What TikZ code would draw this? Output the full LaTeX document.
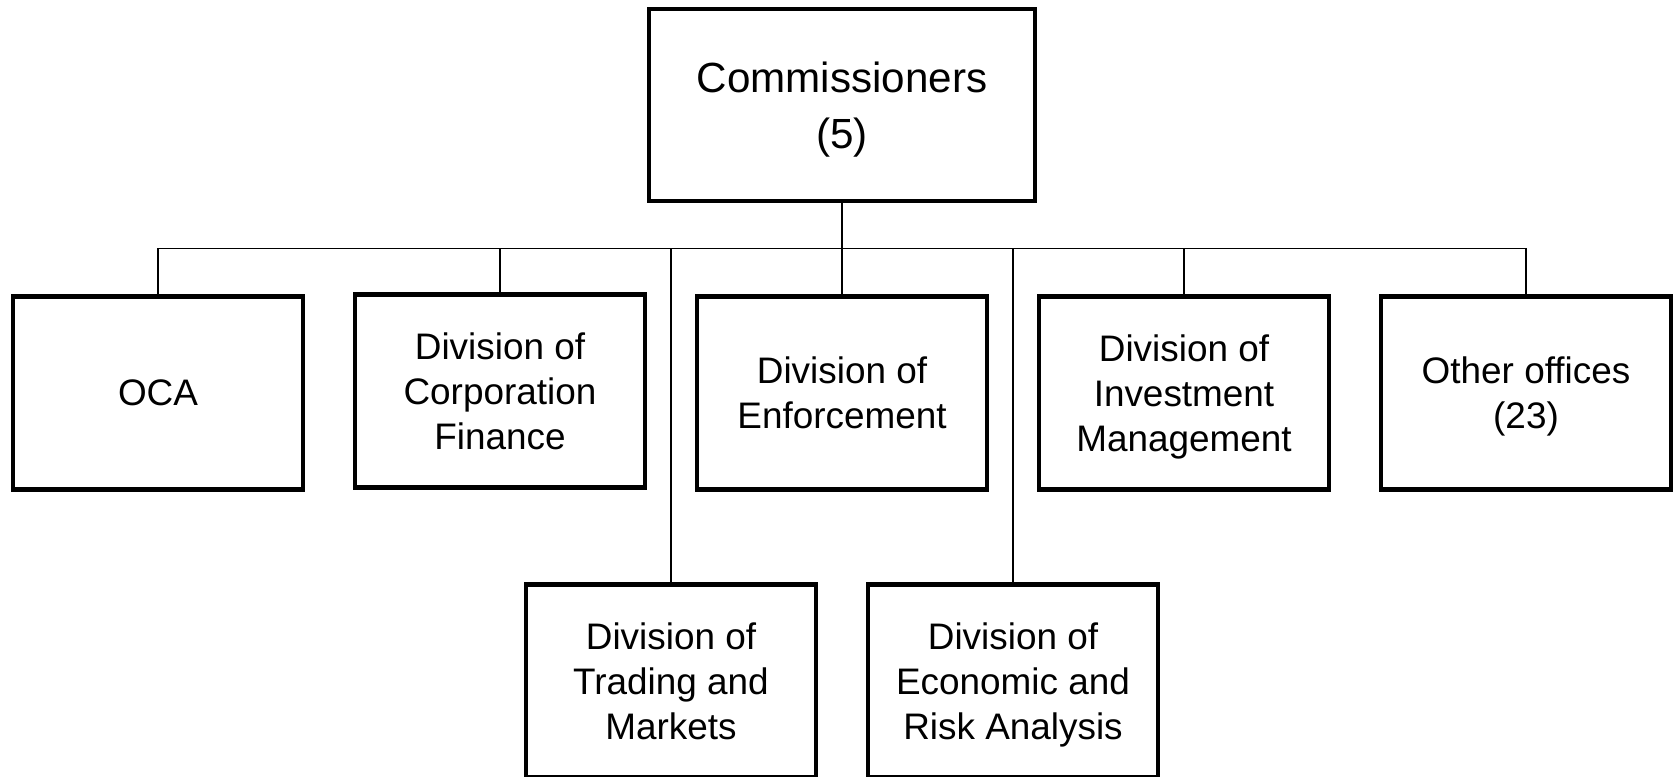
\documentclass[tikz,border=0pt]{standalone}
\usepackage{fontspec}
\setmainfont{Liberation Sans}
\usetikzlibrary{math}
\tikzset{
  unit/.style={draw=black, line width=2.7pt, minimum width=5.8cm, minimum height=3.86cm,
    align=center, inner sep=0pt, text depth=0pt, font=\fontsize{21}{25.5}\selectfont},
  link/.style={line width=0.9pt}
}

\begin{document}
\begin{tikzpicture}
\tikzmath{
\S=3.42;
\R=-7.86;
\B=-13.62;
}
\useasboundingbox (-16.84,0) rectangle (16.62,-15.54);

\node[unit, minimum width=7.72cm, minimum height=3.84cm, font=\fontsize{24}{31.6}\selectfont] (comm) at (0,-2.1) {Commissioners\\(5)};

\node[unit] (oca) at (-4*\S,\R) {OCA};
\node[unit] (corp) at (-2*\S,\R+0.04) {Division of\\Corporation\\Finance};
\node[unit] (enf) at (0,\R) {Division of\\Enforcement};
\node[unit] (inv) at (2*\S,\R) {Division of\\Investment\\Management};
\node[unit] (other) at (4*\S,\R) {Other offices\\(23)};
\node[unit] (trade) at (-\S,\B) {Division of\\Trading and\\Markets};
\node[unit] (econ) at (\S,\B) {Division of\\Economic and\\Risk Analysis};

% tree lines
\coordinate (bus) at (0,-4.97);
\draw[link] (comm) -- (comm |- bus);
\draw[link] (oca |- bus) -- (other |- bus);
\foreach \n in {oca,corp,trade,enf,econ,inv,other}
  \draw[link] (\n) -- (\n |- bus);

\end{tikzpicture}
\end{document}
